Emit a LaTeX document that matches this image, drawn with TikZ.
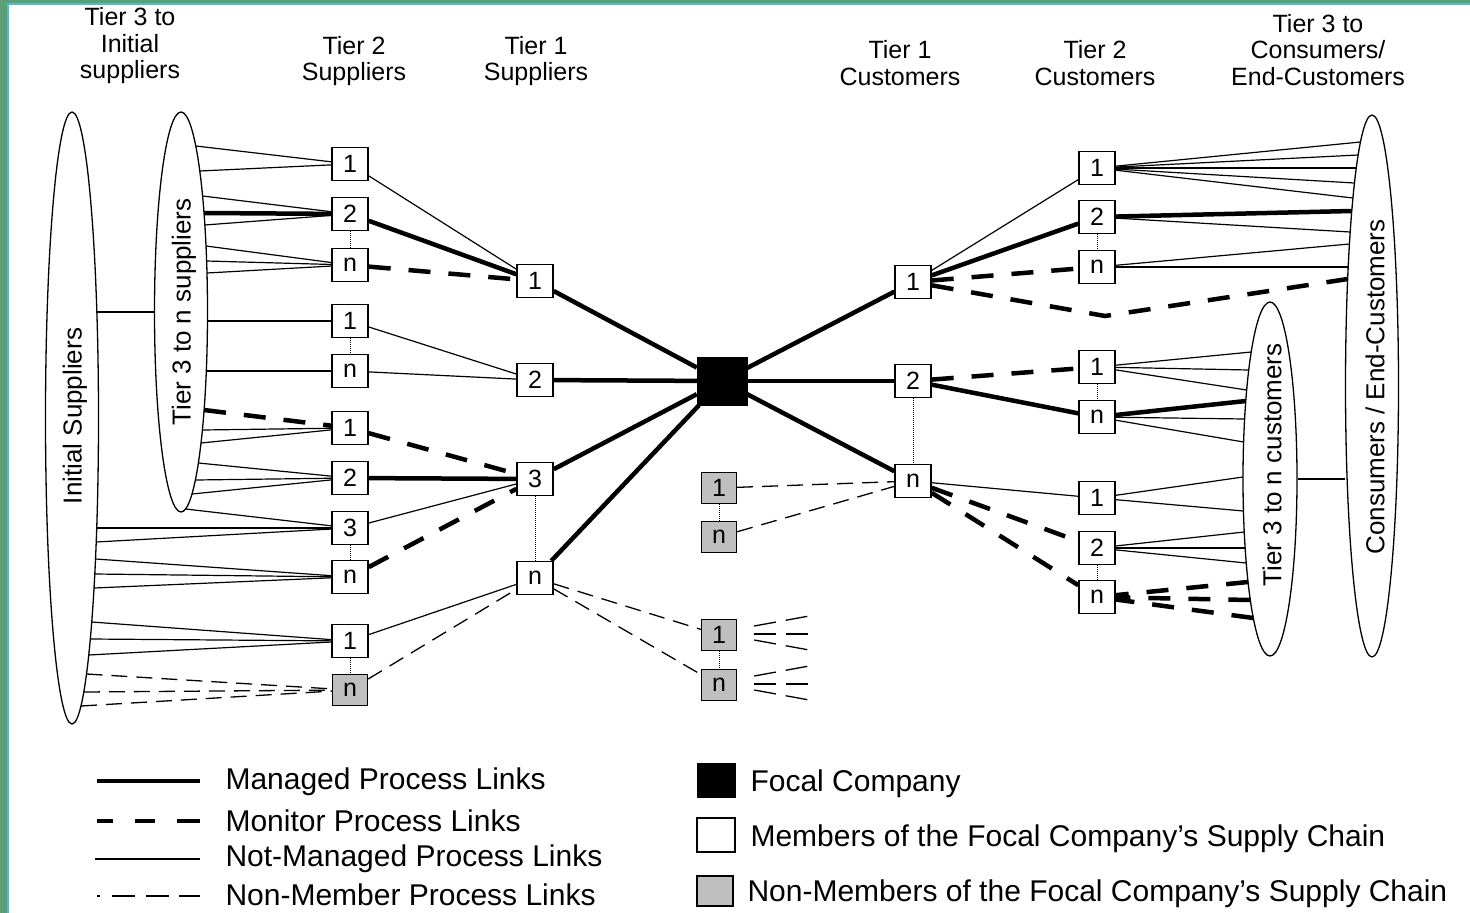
\documentclass[tikz,border=0pt]{standalone}
\usepackage{fontspec}
\setmainfont{Liberation Sans}
\usetikzlibrary{shapes.geometric,calc}
\definecolor{bordergreen}{HTML}{5E9E74}
\definecolor{bordercyan}{HTML}{46C0CE}
% fan of lines from an ellipse border point (given absolute y) to a node
% #1 style, #2 ellipse node, #3 side sign, #4 rx, #5 ry, #6 y list, #7 target, #8 centre y
\newcommand\efan[8]{\foreach \yy in {#6}{\draw[#1] ($(#2.center)+({#3*#4*sqrt(1-((\yy-#8)/#5)^2)},{\yy-#8})$) -- (#7);}}
\begin{document}
\begin{tikzpicture}[x=1pt,y=-1pt,
  box/.style={draw, line width=1.4pt, minimum width=36pt, minimum height=33pt, inner sep=0pt, fill=white, font=\fontsize{25}{25}\selectfont},
  nmbox/.style={box, fill=black!25, minimum width=35pt, minimum height=31pt},
  focal/.style={draw, fill=black, minimum width=50pt, minimum height=48pt, inner sep=0pt},
  oval/.style={draw, ellipse, line width=1.3pt, inner sep=0pt},
  managed/.style={line width=4.5pt},
  monitor/.style={line width=4.5pt, dash pattern=on 22pt off 18pt},
  notman/.style={line width=1.2pt},
  nonmem/.style={line width=1.3pt, dash pattern=on 16pt off 9pt},
  stub/.style={line width=1.3pt, dash pattern=on 22pt off 10pt},
  link/.style={densely dotted, line width=1pt},
  hdr/.style={align=center, font=\fontsize{25}{26.5}\selectfont},
  vlab/.style={rotate=90, font=\fontsize{26}{26}\selectfont},
  leg/.style={anchor=west, font=\fontsize{30}{30}\selectfont}]
\useasboundingbox (0,0) rectangle (1470,913);
\fill[white] (0,0) rectangle (1470,913);

% headers
\node[hdr] (h1) at (130,46) {Tier 3 to\\Initial\\suppliers};
\node[hdr] (h2) at (354,61) {Tier 2\\Suppliers};
\node[hdr] (h3) at (536,61) {Tier 1\\Suppliers};
\node[hdr] (h4) at (900,63) {Tier 1\\Customers};
\node[hdr] (h5) at (1095,63) {Tier 2\\Customers};
\node[hdr] (h6) at (1318,50) {Tier 3 to\\Consumers/\\End-Customers};

% ellipses
\node[oval, minimum width=53pt, minimum height=612pt] (EI) at (72,418) {};
\node[oval, minimum width=53pt, minimum height=400pt] (E3) at (181,312) {};
\node[oval, minimum width=53pt, minimum height=542pt] (EC) at (1372,386) {};
\node[oval, minimum width=54pt, minimum height=354pt] (ET) at (1270,479) {};
\node[vlab] (lEI) at (75,416) {Initial Suppliers};
\node[vlab] (lE3) at (184,312) {Tier 3 to n suppliers};
\node[vlab] (lEC) at (1375,387) {Consumers / End-Customers};
\node[vlab] (lET) at (1272,465) {Tier 3 to n customers};
\coordinate (eiA) at ($(EI.center)+({26.5*sqrt(1-((312-418)/306)^2)},{312-418})$);
\draw[notman] (eiA) -- (E3.west);
\draw[notman] (ET.east) -- (ET.east -| EC.west);

% tier 2 suppliers
\node[box] (S21) at (350,164) {1};
\node[box] (S22) at (350,214) {2};
\node[box] (S2n) at (350,265) {n};
\node[box] (Sb1) at (350,321) {1};
\node[box] (Sbn) at (350,371) {n};
\node[box] (Sc1) at (350,428) {1};
\node[box] (Sc2) at (350,478) {2};
\node[box] (Sc3) at (350,528) {3};
\node[box] (Scn) at (350,577) {n};
\node[box] (Sd1) at (350,641) {1};
\node[nmbox] (Sdn) at (350,690) {n};
% tier 1 suppliers
\node[box] (T1) at (535,281) {1};
\node[box] (T2) at (535,380) {2};
\node[box] (T3) at (535,479) {3};
\node[box] (Tn) at (535,578) {n};
% focal
\node[focal] (F) at (722,381) {};
% non-members in middle
\node[nmbox] (Na1) at (719,488) {1};
\node[nmbox] (Nan) at (719,537) {n};
\node[nmbox] (Nb1) at (719,635) {1};
\node[nmbox] (Nbn) at (719,685) {n};
% tier 1 customers
\node[box] (C1) at (913,282) {1};
\node[box] (C2) at (913,381) {2};
\node[box] (Cn) at (913,481) {n};
% tier 2 customers
\node[box] (D1) at (1097,168) {1};
\node[box] (D2) at (1097,217) {2};
\node[box] (Dn) at (1097,267) {n};
\node[box] (Db1) at (1097,367) {1};
\node[box] (Dbn) at (1097,417) {n};
\node[box] (Dc1) at (1097,498) {1};
\node[box] (Dc2) at (1097,548) {2};
\node[box] (Dcn) at (1097,597) {n};

% dotted member links
\foreach \a/\b in {S22/S2n,Sb1/Sbn,Sc3/Scn,Sd1/Sdn,T3/Tn,Na1/Nan,Nb1/Nbn,C2/Cn,D2/Dn,Db1/Dbn,Dc2/Dcn}
  \draw[link] (\a.south) -- (\b.north);

% fans from tier 3 suppliers ellipse
\efan{notman}{E3}{1}{26.5}{200}{146,171}{S21}{312}
\efan{notman}{E3}{1}{26.5}{200}{196,225}{S22}{312}
\efan{managed}{E3}{1}{26.5}{200}{213}{S22}{312}
\efan{notman}{E3}{1}{26.5}{200}{246,261,273}{S2n}{312}
\efan{notman}{E3}{1}{26.5}{200}{321}{Sb1}{312}
\efan{notman}{E3}{1}{26.5}{200}{371}{Sbn}{312}
\efan{monitor}{E3}{1}{26.5}{200}{410}{Sc1}{312}
\efan{notman}{E3}{1}{26.5}{200}{430,443}{Sc1}{312}
\efan{notman}{E3}{1}{26.5}{200}{463,480,494}{Sc2}{312}
\efan{notman}{E3}{1}{26.5}{200}{509}{Sc3}{312}
% fans from initial suppliers ellipse
\efan{notman}{EI}{1}{26.5}{306}{528,542}{Sc3}{418}
\efan{notman}{EI}{1}{26.5}{306}{559,574,588}{Scn}{418}
\efan{notman}{EI}{1}{26.5}{306}{622,639,655}{Sd1}{418}
\efan{nonmem}{EI}{1}{26.5}{306}{674,692,706}{Sdn}{418}

% tier 2 -> tier 1 suppliers
\draw[notman] (S21) -- (T1);
\draw[managed] (S22) -- (T1);
\draw[monitor] (S2n) -- (T1);
\draw[notman] (Sb1) -- (T2);
\draw[notman] (Sbn) -- (T2);
\draw[monitor] (Sc1) -- (T3);
\draw[managed] (Sc2) -- (T3);
\draw[notman] (Sc3) -- (T3);
\draw[monitor] (Scn) -- (T3);
\draw[notman] (Sd1) -- (Tn);
\draw[nonmem] (Sdn) -- (Tn);
% tier 1 suppliers -> focal
\foreach \t in {T1,T2,T3,Tn} \draw[managed] (\t) -- (F);
\draw[nonmem] (Tn) -- (Nb1);
\draw[nonmem] (Tn) -- (Nbn);
% stubs right of non-member boxes
\foreach \n in {Nb1,Nbn}{
  \draw[stub] ($(\n.east)+(17,-9)$) -- ++(55,-10);
  \draw[stub] ($(\n.east)+(17,-1)$) -- ++(55,0);
  \draw[stub] ($(\n.east)+(17,5)$) -- ++(55,10);
}
% focal -> tier 1 customers
\foreach \c in {C1,C2,Cn} \draw[managed] (F) -- (\c);
\draw[nonmem] (Na1) -- (Cn);
\draw[nonmem] (Nan) -- (Cn);
% tier 1 -> tier 2 customers
\draw[notman] (C1) -- (D1);
\draw[managed] (C1) -- (D2);
\draw[monitor] (C1) -- (Dn);
\coordinate (bendC) at (1105,316);
\coordinate (ecA) at ($(EC.center)+({-26.5*sqrt(1-((279-386)/271)^2)},{279-386})$);
\draw[monitor] (C1) -- (bendC) -- (ecA);
\draw[monitor] (C2) -- (Db1);
\draw[managed] (C2) -- (Dbn);
\draw[notman] (Cn) -- (Dc1);
\draw[monitor] (Cn) -- (Dc2);
\draw[monitor] (Cn) -- (Dcn);
% fans to consumers ellipse
\efan{notman}{EC}{-1}{26.5}{271}{142,155,168,183,198}{D1}{386}
\efan{managed}{EC}{-1}{26.5}{271}{211}{D2}{386}
\efan{notman}{EC}{-1}{26.5}{271}{232}{D2}{386}
\efan{notman}{EC}{-1}{26.5}{271}{244,267}{Dn}{386}
% fans to tier 3 customers ellipse
\efan{notman}{ET}{-1}{27}{177}{352,370,390}{Db1}{479}
\efan{managed}{ET}{-1}{27}{177}{401}{Dbn}{479}
\efan{notman}{ET}{-1}{27}{177}{419,442}{Dbn}{479}
\efan{notman}{ET}{-1}{27}{177}{477,511}{Dc1}{479}
\efan{notman}{ET}{-1}{27}{177}{532,548,563}{Dc2}{479}
\efan{monitor}{ET}{-1}{27}{177}{582,600,618}{Dcn}{479}

% legend
\coordinate (lm1) at (97,781);  \coordinate (lm2) at (200,781);
\coordinate (lo1) at (97,821);  \coordinate (lo2) at (200,821);
\coordinate (ln1) at (95,859);  \coordinate (ln2) at (200,859);
\coordinate (lp1) at (97,896);  \coordinate (lp2) at (200,896);
\draw[line width=4pt] (lm1) -- (lm2);
\draw[line width=4.5pt, dash pattern=on 16pt off 22pt on 20pt off 22pt on 23pt off 40pt] (lo1) -- (lo2);
\draw[line width=1.5pt] (ln1) -- (ln2);
\draw[line width=1.5pt, dash pattern=on 3pt off 12pt on 23pt off 11pt on 23pt off 10pt on 21pt off 40pt] (lp1) -- (lp2);
\node[leg] (t1) at (222,782) {Managed Process Links};
\node[leg] (t2) at (222,821) {Monitor Process Links};
\node[leg] (t3) at (222,859) {Not-Managed Process Links};
\node[leg] (t4) at (222,895) {Non-Member Process Links};
\node[focal, minimum width=38pt, minimum height=34pt] (lf) at (716,780) {};
\node[box, minimum width=38pt, minimum height=34pt] (lw) at (716,835) {};
\node[nmbox, minimum width=36pt, minimum height=30pt] (lg) at (715,891) {};
\node[leg] (t5) at (747,784) {Focal Company};
\node[leg] (t6) at (747,839) {Members of the Focal Company’s Supply Chain};
\node[leg] (t7) at (744,894) {Non-Members of the Focal Company’s Supply Chain};

% border
\fill[bordergreen] (0,0) rectangle (7,913);
\fill[bordercyan] (7,4) rectangle (8.5,913);
\fill[bordergreen] (0,0) rectangle (1470,3);
\fill[bordercyan] (7,3) rectangle (1470,4.5);
\end{tikzpicture}
\end{document}
